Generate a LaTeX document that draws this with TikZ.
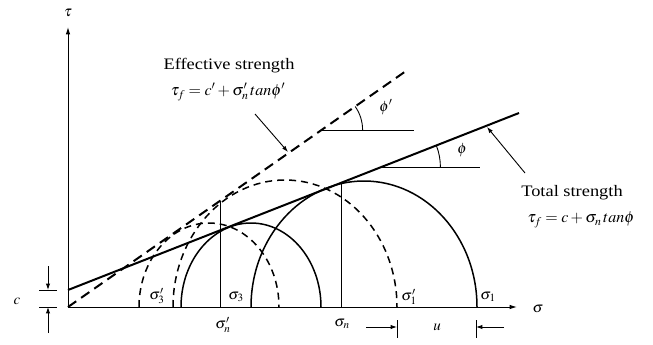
\documentclass[tikz,border=0pt]{standalone}
\usepackage{mathptmx}
\usepackage{fontspec}
\setmainfont{Liberation Serif}[FakeStretch=1.15]
\usetikzlibrary{arrows.meta}

\begin{document}
\begin{tikzpicture}[x=1pt,y=-1pt,
 axis/.style={line width=1pt,-{Latex[length=2.6mm,width=1.6mm]}},
 tot/.style={line width=2pt},
 eff/.style={line width=2pt,dash pattern=on 10pt off 6pt},
 circ/.style={line width=1.5pt},
 dcirc/.style={line width=1.5pt,dash pattern=on 7pt off 5pt},
 thin/.style={line width=0.9pt},
 pt/.style={-{Latex[length=2.2mm,width=1.5mm]},line width=0.9pt},
 lab/.style={font=\fontsize{16}{18}\selectfont,inner sep=1pt},
 sym/.style={font=\fontsize{15}{17}\selectfont,inner sep=1pt}]
 \useasboundingbox (0,0) rectangle (653,345);
 % axes
 \coordinate (O) at (68,307);
 \coordinate (ytip) at (68,27);
 \coordinate (xtip) at (517,307);
 \node[sym] (tau) at (68,13) {$\tau$};
 \node[sym] (sig) at (538,309) {$\sigma$};
 \draw[axis] (O) -- (ytip);
 \draw[axis] (O) -- (xtip);
 % strength envelopes
 \coordinate (c0) at (68,290);
 \coordinate (tend) at (519,113);
 \coordinate (eend) at (406,71);
 \draw[tot] (c0) -- (tend);
 \draw[eff] (O) -- (eend);
 % Mohr circles, total (solid) and effective (dashed)
 \draw[circ] (181,307) arc[start angle=180,end angle=0,x radius=70pt,y radius=84pt];
 \draw[circ] (251,307) arc[start angle=180,end angle=0,x radius=113pt,y radius=126pt];
 \draw[dcirc] (139,307) arc[start angle=180,end angle=0,x radius=70pt,y radius=84pt];
 \draw[dcirc] (173,307) arc[start angle=180,end angle=0,x radius=112pt,y radius=127pt];
 % normal stress on the failure plane
 \coordinate (ne) at (220,201); \coordinate (nt) at (341,183);
 \draw[thin] (220,307) -- (ne);
 \draw[thin] (341,307) -- (nt);
 % friction angles
 \coordinate (pe) at (321.6,130); \coordinate (pt) at (381.4,167);
 \draw[thin] (pe) -- (414,130);
 \draw[thin] (362.6,130) arc[start angle=0,end angle=35,radius=41pt];
 \draw[thin] (pt) -- (480,167);
 \draw[thin] (440.4,167) arc[start angle=0,end angle=21.4,radius=59pt];
 \node[sym] (phie) at (386,107) {$\phi'$};
 \node[sym] (phit) at (462,150) {$\phi$};
 % labels of the envelopes
 \node[lab] (efft) at (229,66) {Effective strength};
 \node[lab] (efff) at (228,92) {$\tau_f = c' + \sigma'_n\, tan\phi'$};
 \node[lab] (tott) at (572,193) {Total strength};
 \node[lab] (totf) at (581,220) {$\tau_f = c + \sigma_n\, tan\phi$};
 \coordinate (es) at (255,114); \coordinate (ee) at (288,152);
 \coordinate (ts) at (525,173); \coordinate (te) at (487,127);
 \draw[pt] (es) -- (ee);
 \draw[pt] (ts) -- (te);
 % stresses on the axis
 \node[sym] (s3e) at (157,296) {$\sigma'_3$};
 \node[sym] (s3) at (236,297) {$\sigma_3$};
 \node[sym] (sne) at (223,325) {$\sigma'_n$};
 \node[sym] (sn) at (342,324) {$\sigma_n$};
 \node[sym] (s1e) at (409,297) {$\sigma'_1$};
 \node[sym] (s1) at (488,297) {$\sigma_1$};
 % cohesion
 \node[sym] (c) at (17,301) {$c$};
 \coordinate (ca) at (48,266); \coordinate (cb) at (48,290);
 \coordinate (cc) at (48,333); \coordinate (cd) at (48,307);
 \draw[thin] (39,290) -- (57,290);
 \draw[thin] (39,307) -- (57,307);
 \draw[pt] (ca) -- (cb);
 \draw[pt] (cc) -- (cd);
 % pore pressure
 \node[sym] (u) at (437,327) {$u$};
 \coordinate (ua) at (366,327); \coordinate (ub) at (397,327);
 \coordinate (uc) at (504,327); \coordinate (ud) at (476,327);
 \draw[thin] (397,320) -- (397,338);
 \draw[thin] (476,320) -- (476,338);
 \draw[pt] (ua) -- (ub);
 \draw[pt] (uc) -- (ud);
\end{tikzpicture}
\end{document}
